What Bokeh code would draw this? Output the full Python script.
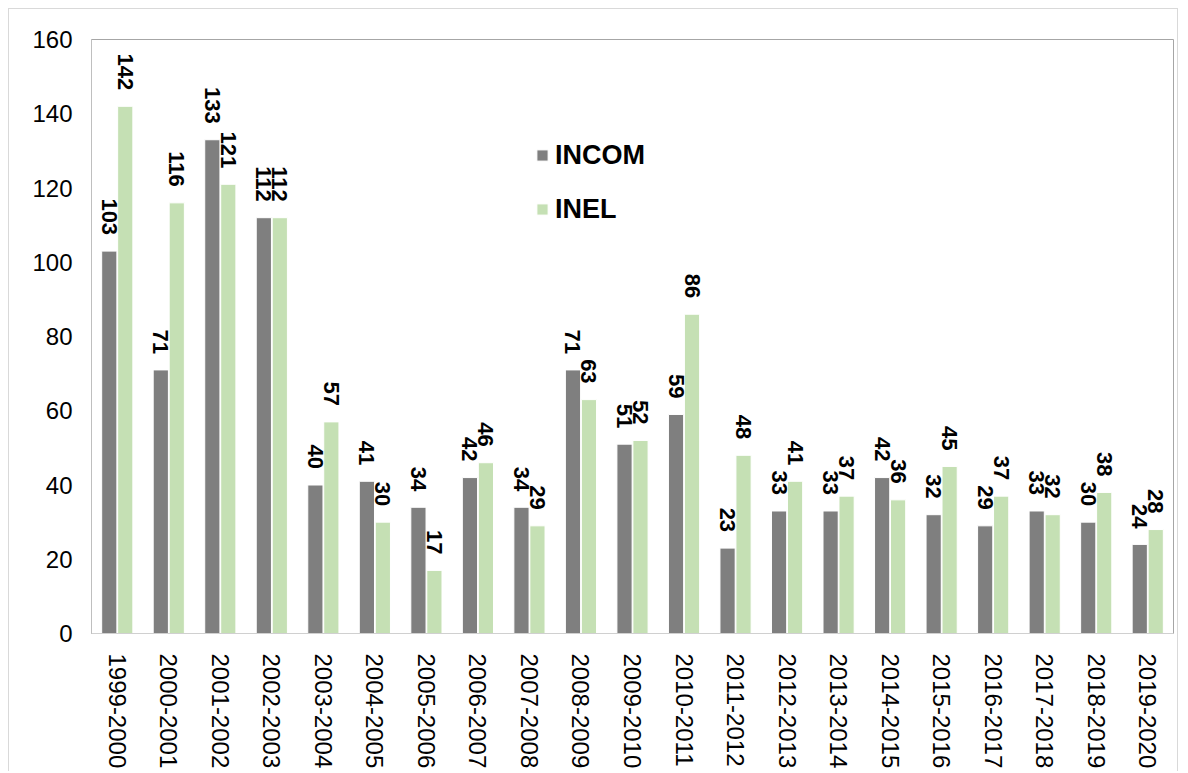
import math
from bokeh.plotting import figure
from bokeh.models import ColumnDataSource, FactorRange, Range1d, LabelSet, Legend, LegendItem
from bokeh.core.properties import value
from bokeh.transform import dodge
from bokeh.embed import file_html
from bokeh.resources import INLINE

categories = ["1999-2000", "2000-2001", "2001-2002", "2002-2003", "2003-2004", "2004-2005",
              "2005-2006", "2006-2007", "2007-2008", "2008-2009", "2009-2010", "2010-2011",
              "2011-2012", "2012-2013", "2013-2014", "2014-2015", "2015-2016", "2016-2017",
              "2017-2018", "2018-2019", "2019-2020"]
incom = [103, 71, 133, 112, 40, 41, 34, 42, 34, 71, 51, 59, 23, 33, 33, 42, 32, 29, 33, 30, 24]
inel = [142, 116, 121, 112, 57, 30, 17, 46, 29, 63, 52, 86, 48, 41, 37, 36, 45, 37, 32, 38, 28]
y_ticks = [0, 20, 40, 60, 80, 100, 120, 140, 160]

FONT = "Liberation Sans"
GREY = "#7f7f7f"
GREEN = "#c5e0b4"

src = ColumnDataSource(dict(
    cat=categories, incom=incom, inel=inel,
    incom_s=[str(v) for v in incom], inel_s=[str(v) for v in inel],
))

p = figure(x_range=FactorRange(*categories, range_padding=0), y_range=Range1d(0, 160),
           width=1170, height=763, output_backend="svg", toolbar_location=None,
           min_border_left=82, min_border_right=6, min_border_top=30, min_border_bottom=139)
p.margin = (8, 0, 0, 8)
p.styles = {"border": "1px solid #d9d9d9", "border-bottom": "none"}

off = 0.155
bw = 0.295
r1 = p.vbar(x=dodge("cat", -off, range=p.x_range), top="incom", width=bw, source=src,
            fill_color=GREY, line_color="white", line_width=1)
r2 = p.vbar(x=dodge("cat", off, range=p.x_range), top="inel", width=bw, source=src,
            fill_color=GREEN, line_color="white", line_width=1)

for col, d in (("incom", -off), ("inel", off)):
    lab = LabelSet(x=dodge("cat", d, range=p.x_range), y=col, text=col + "_s", source=src,
                   angle=-math.pi / 2, text_align="right", text_baseline="middle",
                   y_offset=16, text_font=value(FONT), text_font_size="22px",
                   text_font_style="bold", text_color="black")
    p.add_layout(lab)

p.xgrid.grid_line_color = None
p.ygrid.grid_line_color = None
p.outline_line_color = "#a6a6a6"
p.outline_line_width = 1

p.yaxis.ticker = y_ticks
p.yaxis.axis_line_color = "#bfbfbf"
p.yaxis.major_tick_line_color = None
p.yaxis.minor_tick_line_color = None
p.yaxis.major_tick_out = 0
p.yaxis.major_tick_in = 0
p.yaxis.major_label_text_font = FONT
p.yaxis.major_label_text_font_size = "24px"
p.yaxis.major_label_text_color = "black"
p.yaxis.major_label_standoff = 19

p.xaxis.axis_line_color = "#d0d0d0"
p.xaxis.major_tick_line_color = None
p.xaxis.minor_tick_line_color = None
p.xaxis.major_tick_out = 0
p.xaxis.major_tick_in = 0
p.xaxis.major_label_orientation = -math.pi / 2
p.xaxis.major_label_text_font = FONT
p.xaxis.major_label_text_font_size = "24px"
p.xaxis.major_label_text_color = "black"
p.xaxis.major_label_standoff = 20

legend = Legend(items=[LegendItem(label="INCOM", renderers=[r1]),
                       LegendItem(label="INEL", renderers=[r2])],
                location=(444, 407), orientation="vertical",
                glyph_width=14, glyph_height=14, label_standoff=6,
                label_height=34, spacing=20, padding=0, margin=0,
                label_text_font=FONT, label_text_font_size="27px",
                label_text_font_style="bold", label_text_color="black",
                border_line_color=None, background_fill_alpha=0)
p.add_layout(legend)

open("out.html", "w").write(file_html(p, INLINE))
